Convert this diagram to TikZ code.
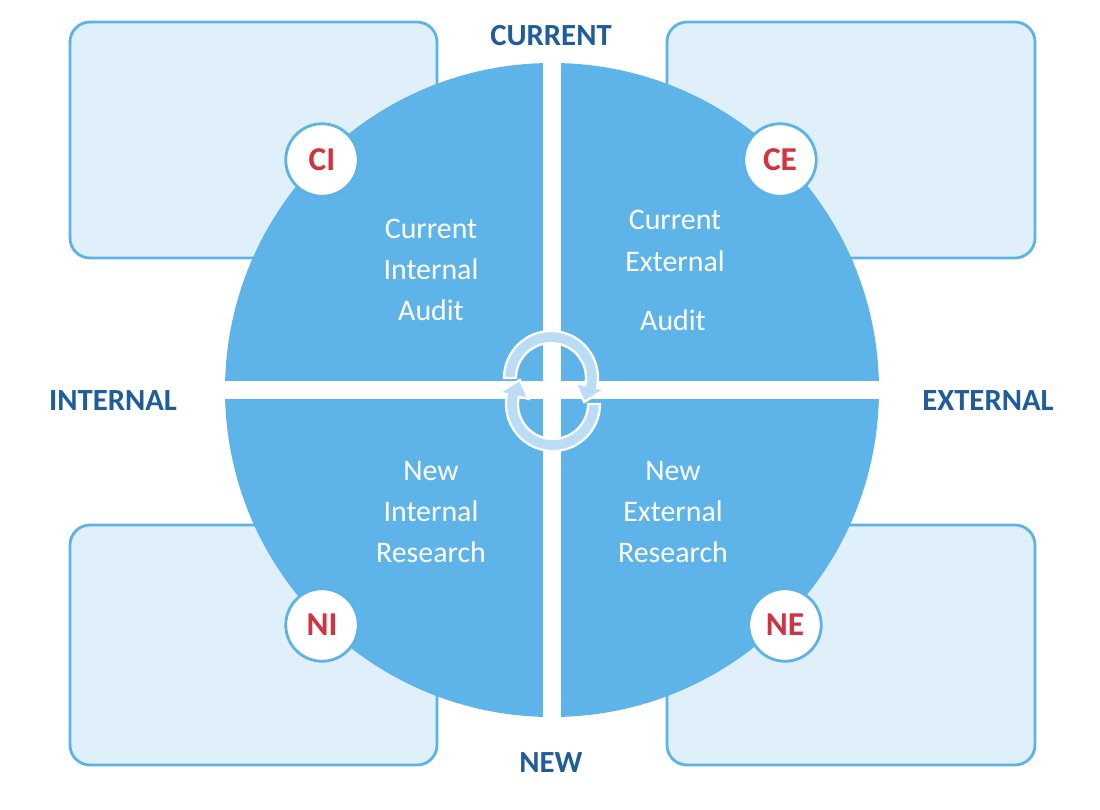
\documentclass[tikz,border=0pt]{standalone}
\usepackage{fontspec}
\setmainfont{Carlito}
\usetikzlibrary{calc}
\definecolor{boxfill}{HTML}{DFF0FA}
\definecolor{edge}{HTML}{5DB3E6}
\definecolor{disc}{HTML}{5EB4E8}
\definecolor{arr}{HTML}{BADCF4}
\definecolor{lab}{HTML}{1F5C99}
\definecolor{red}{HTML}{CF3440}
\begin{document}
\begin{tikzpicture}[x=0.02cm,y=-0.02cm,
  box/.style={draw=edge,line width=1.6pt,fill=boxfill,rounded corners=0.4cm},
  badge/.style={circle,draw=edge,line width=1.6pt,fill=white,minimum size=1.45cm,inner sep=0pt,text=red,font=\fontsize{19}{19}\selectfont\bfseries},
  axis/.style={text=lab,font=\fontsize{17.5}{17.5}\selectfont\bfseries},
  quad/.style={text=white,align=center,font=\fontsize{17}{23.5}\selectfont},
  arrw/.style={fill=arr,draw=white,line width=1.3pt}]
\useasboundingbox (0,0) rectangle (1100,809);
\draw[box] (70,22) rectangle (437,258);
\draw[box] (667,22) rectangle (1035,258);
\draw[box] (70,525) rectangle (437,765);
\draw[box] (667,525) rectangle (1035,765);
\fill[disc] (552,390) circle[radius=327];
\fill[white] (543,50) rectangle (561,730);
\fill[white] (215,381) rectangle (890,399);
\node[badge] (ci) at (322,160) {CI};
\node[badge] (ce) at (780,160) {CE};
\node[badge] (ni) at (322,625) {NI};
\node[badge] (ne) at (785,625) {NE};
\node[axis] (cur) at (551,36) {CURRENT};
\node[axis] (new) at (551,763) {NEW};
\node[axis] (int) at (113,401) {INTERNAL};
\node[axis] (ext) at (988,401) {EXTERNAL};
\node[quad] (q1) at (431,270) {Current\\Internal\\Audit};
\node[quad] (q2a) at (675,241) {Current\\External};
\node[quad] (q2b) at (673,320) {Audit};
\node[quad] (q3) at (431,512) {New\\Internal\\Research};
\node[quad] (q4) at (673,512) {New\\External\\Research};
\coordinate (c1) at (551,378);
\draw[arrw] ($(c1)+(180:47)$) arc[start angle=180,end angle=372,radius=47]
  -- ($(c1)+(372:55)$) -- ($(c1)+(396:41)$) -- ($(c1)+(372:25)$) -- ($(c1)+(372:35)$)
  arc[start angle=372,end angle=180,radius=35] -- cycle;
\coordinate (c2) at (553,404);
\draw[arrw] ($(c2)+(0:47)$) arc[start angle=0,end angle=192,radius=47]
  -- ($(c2)+(192:55)$) -- ($(c2)+(216:41)$) -- ($(c2)+(192:25)$) -- ($(c2)+(192:35)$)
  arc[start angle=192,end angle=0,radius=35] -- cycle;
\end{tikzpicture}
\end{document}
